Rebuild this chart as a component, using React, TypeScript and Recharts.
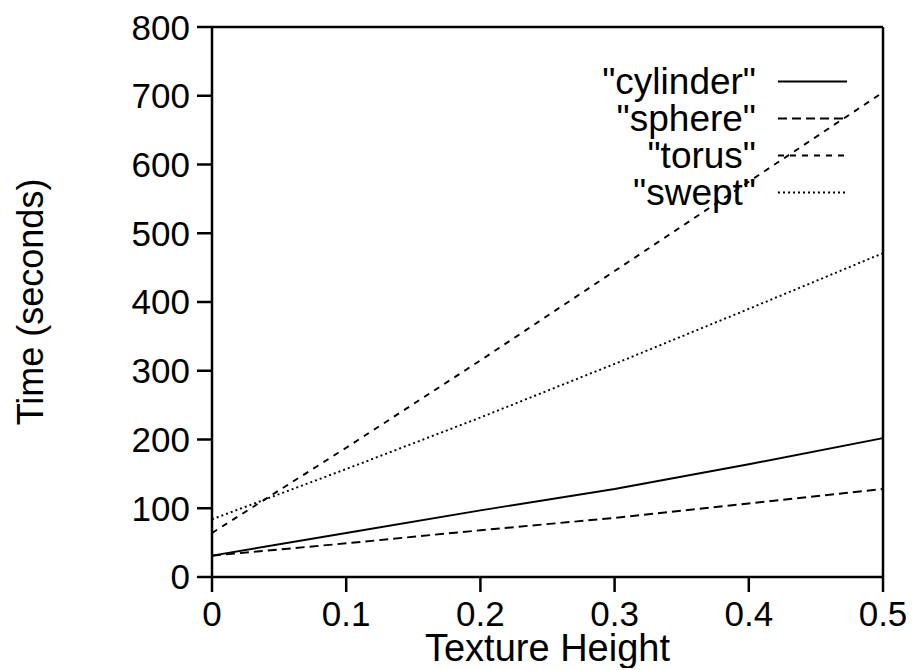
import { Legend, Line, LineChart, ReferenceLine, XAxis, YAxis } from "recharts";

const heights = [0, 0.1, 0.2, 0.3, 0.4, 0.5];
const cylinder = [31, 64, 97, 128, 164, 202];
const sphere = [31, 49, 68, 86, 107, 128];
const torus = [64, 188, 315, 445, 575, 705];
const swept = [84, 157, 232, 310, 390, 471];
const xTicks = [0, 0.1, 0.2, 0.3, 0.4, 0.5];
const yTicks = [0, 100, 200, 300, 400, 500, 600, 700, 800];

const FONT = '"Liberation Sans", Arial, Helvetica, sans-serif';

const series = [
  { key: "cylinder", name: '"cylinder"', dash: undefined as string | undefined },
  { key: "sphere", name: '"sphere"', dash: "9 5" },
  { key: "torus", name: '"torus"', dash: "6 6" },
  { key: "swept", name: '"swept"', dash: "2 3" },
];

const data = heights.map((h, i) => ({
  h,
  cylinder: cylinder[i],
  sphere: sphere[i],
  torus: torus[i],
  swept: swept[i],
}));

function LegendBox() {
  return (
    <div style={{ fontFamily: FONT, fontSize: 37 }}>
      {series.map((s) => (
        <div key={s.key} style={{ display: "flex", height: 37, alignItems: "center" }}>
          <span style={{ width: 170, textAlign: "right", lineHeight: "37px" }}>{s.name}</span>
          <svg width={95} height={37}>
            <line x1={22} x2={91} y1={18.5} y2={18.5} stroke="#000" strokeWidth={1.9} strokeDasharray={s.dash} />
          </svg>
        </div>
      ))}
    </div>
  );
}

export default function App() {
  const tick = { fill: "#000", fontSize: 35, fontFamily: FONT };
  return (
    <LineChart width={900} height={660} data={data} margin={{ top: 19, right: 25, left: 0, bottom: 0 }}>
      <XAxis
        dataKey="h"
        type="number"
        domain={[0, 0.5]}
        ticks={xTicks}
        height={91}
        tickSize={15}
        tickMargin={9}
        tick={tick}
        axisLine={{ stroke: "#000", strokeWidth: 2.5 }}
        tickLine={{ stroke: "#000", strokeWidth: 2.5 }}
        label={{
          content: (p: any) => (
            <text x={p.viewBox.x + p.viewBox.width / 2} y={p.viewBox.y + 84} textAnchor="middle" fontSize={38} fontFamily={FONT} fill="#000">
              Texture Height
            </text>
          ),
        }}
      />
      <YAxis
        type="number"
        domain={[0, 800]}
        ticks={yTicks}
        width={204}
        tickSize={15}
        tickMargin={7}
        tick={tick}
        axisLine={{ stroke: "#000", strokeWidth: 2.5 }}
        tickLine={{ stroke: "#000", strokeWidth: 2.5 }}
        label={{
          content: (p: any) => {
            const cx = p.viewBox.x + 22;
            const cy = p.viewBox.y + p.viewBox.height / 2;
            return (
              <text x={cx} y={cy} transform={`rotate(-90 ${cx} ${cy})`} textAnchor="middle" dominantBaseline="central" fontSize={36} fontFamily={FONT} fill="#000">
                Time (seconds)
              </text>
            );
          },
        }}
      />
      <ReferenceLine y={800} stroke="#000" strokeWidth={2.5} />
      <ReferenceLine x={0.5} stroke="#000" strokeWidth={2.5} />
      <Legend
        layout="horizontal"
        verticalAlign="middle"
        align="center"
        content={() => <LegendBox />}
        wrapperStyle={{ top: 55, left: 578, width: 270 }}
      />
      {series.map((s) => (
        <Line
          key={s.key}
          type="linear"
          dataKey={s.key}
          name={s.name}
          stroke="#000"
          strokeWidth={1.9}
          strokeDasharray={s.dash}
          dot={false}
          isAnimationActive={false}
        />
      ))}
    </LineChart>
  );
}
